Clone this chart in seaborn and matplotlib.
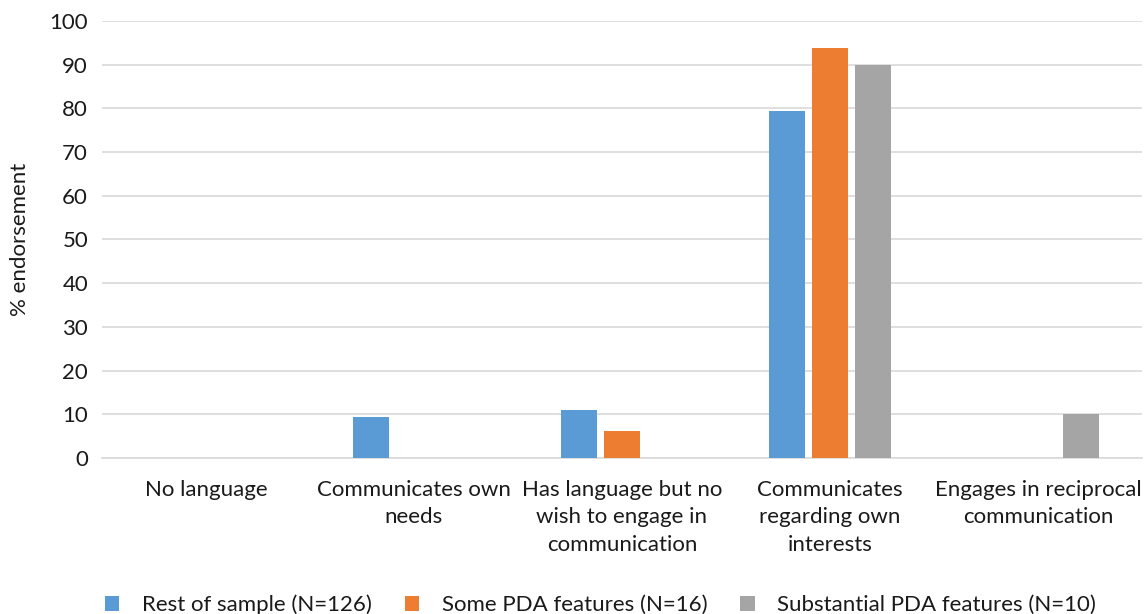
import matplotlib
matplotlib.use("Agg")
import matplotlib.pyplot as plt
import seaborn as sns
import pandas as pd

categories = ["No language", "Communicates own\nneeds", "Has language but no\nwish to engage in\ncommunication",
              "Communicates\nregarding own\ninterests", "Engages in reciprocal\ncommunication"]
series_names = ["Rest of sample (N=126)", "Some PDA features (N=16)", "Substantial PDA features (N=10)"]
rest = [0, 9.5, 11.1, 79.4, 0]
some = [0, 0, 6.25, 93.75, 0]
substantial = [0, 0, 0, 90, 10]
colors = ["#5b9bd5", "#ed7d31", "#a5a5a5"]

rows = []
for name, vals in zip(series_names, [rest, some, substantial]):
    for c, v in zip(categories, vals):
        rows.append({"category": c, "series": name, "value": v})
df = pd.DataFrame(rows)

sns.set_style("white")
plt.rcParams['font.family'] = ['Lato', 'DejaVu Sans']

fs = 16
fig = plt.figure(figsize=(11.46, 6.14), dpi=100)
ax = fig.add_axes([0.089, 0.254, 0.9075, 0.712])
sns.barplot(data=df, x="category", y="value", hue="series", order=categories,
            hue_order=series_names, palette=colors, width=0.615, gap=0.16,
            saturation=1, ax=ax, legend=True, zorder=3, linewidth=0, edgecolor="none")
ax.set_ylim(0, 100)
ax.set_xlim(-0.5, 4.5)
ax.set_yticks(range(0, 101, 10))
ax.yaxis.grid(True, color="#d9d9d9", linewidth=1.2, zorder=0)
ax.set_axisbelow(True)
for s in ["top", "right", "left"]:
    ax.spines[s].set_visible(False)
ax.spines["bottom"].set_color("#d9d9d9")
ax.spines["bottom"].set_linewidth(1.2)
ax.tick_params(axis="both", length=0, labelsize=fs, colors="#1a1a1a", pad=10)
ax.tick_params(axis="x", pad=16)
ax.set_xlabel("")
ax.set_ylabel("% endorsement", fontsize=fs, labelpad=14, color="#1a1a1a")
for lbl in ax.get_xticklabels():
    lbl.set_linespacing(1.45)
handles, labels = ax.get_legend_handles_labels()
ax.get_legend().remove()
leg = fig.legend(handles, labels, loc="center", bbox_to_anchor=(0.524, 0.015), ncol=3, frameon=False,
                 fontsize=fs, handlelength=0.65, handleheight=0.65, columnspacing=1.5, handletextpad=1.0)
for t in leg.get_texts():
    t.set_color("#1a1a1a")
fig.savefig("out.png", dpi=100)
